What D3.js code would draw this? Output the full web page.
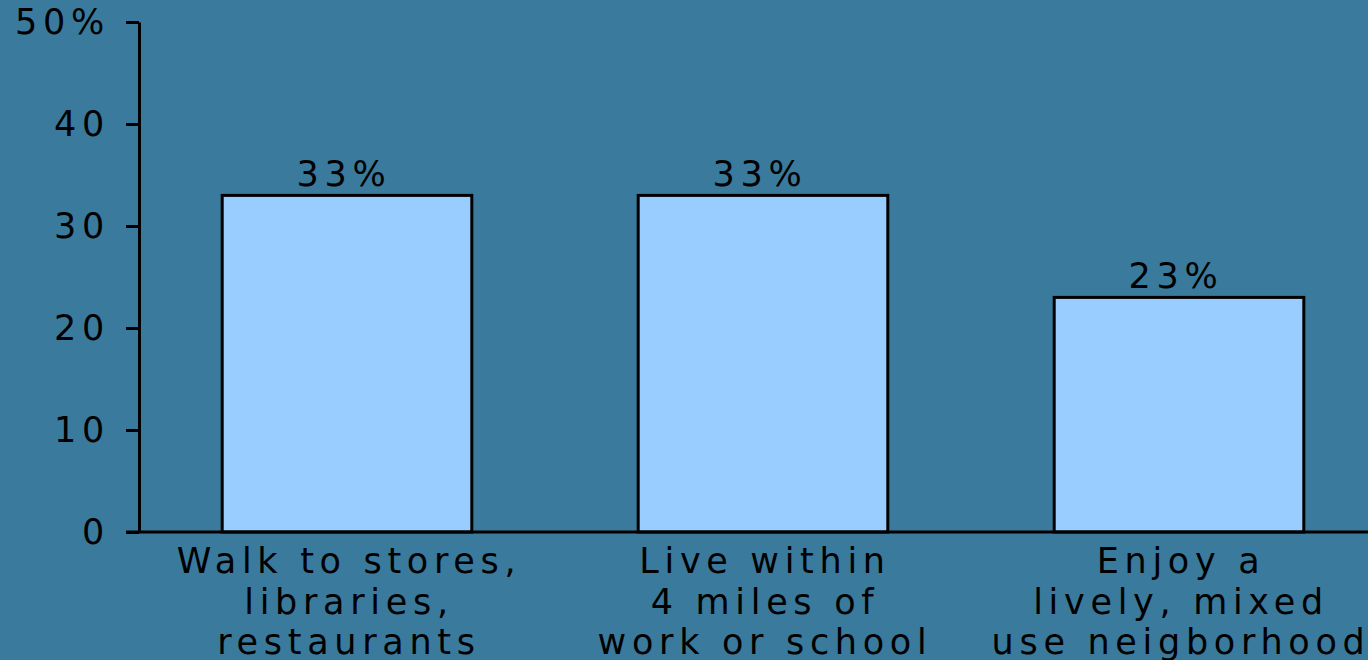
<!DOCTYPE html>
<html>
<head>
<meta charset="utf-8">
<script src="https://cdn.jsdelivr.net/npm/d3@7"></script>
<style>
  html, body { margin: 0; padding: 0; background: #3a7a9c; }
  svg { display: block; }
  text { font-family: "DejaVu Sans", Verdana, sans-serif; font-size: 35px; letter-spacing: 5.7px; fill: #000; }
</style>
</head>
<body>
<script>
// data
var categories = [
    ['Walk to stores,', 'libraries,', 'restaurants'],
    ['Live within', '4 miles of', 'work or school'],
    ['Enjoy a', 'lively, mixed', 'use neigborhood']
];
var values = [33, 33, 23];
var valueLabels = ['33%', '33%', '23%'];
var tickValues = [0, 10, 20, 30, 40, 50];

var width = 1368, height = 660;

var svg = d3.select('body').append('svg')
            .attr('width', width)
            .attr('height', height);

var x = d3.scaleBand()
          .domain(d3.range(values.length))
          .range([139, 1387])
          .paddingInner(0.4)
          .paddingOuter(0.2);

var y = d3.scaleLinear()
          .domain([0, 50])
          .range([532, 22]);

// bars
svg.selectAll('rect.bar')
    .data(values)
    .enter()
    .append('rect')
    .attr('class', 'bar')
    .attr('x', function (d, i) { return x(i); })
    .attr('y', function (d) { return y(d); })
    .attr('width', x.bandwidth())
    .attr('height', function (d) { return y(0) - y(d); })
    .style('fill', '#99ccff')
    .style('stroke', '#000')
    .style('stroke-width', 3);

// value labels
svg.selectAll('text.val')
    .data(values)
    .enter()
    .append('text')
    .attr('class', 'val')
    .attr('x', function (d, i) { return x(i) + x.bandwidth() / 2 - 3; })
    .attr('y', function (d) { return y(d) - 9; })
    .attr('text-anchor', 'middle')
    .text(function (d, i) { return valueLabels[i]; });

// y axis
var yAxis = d3.axisLeft(y)
              .tickValues(tickValues)
              .tickSize(13)
              .tickSizeOuter(0)
              .tickPadding(16)
              .tickFormat(function (d) { return d === 50 ? d + '%' : d; });

var gy = svg.append('g')
            .attr('transform', 'translate(139,0)')
            .call(yAxis);
gy.select('.domain').style('stroke', '#000').style('stroke-width', 3);
gy.selectAll('.tick line').style('stroke', '#000').style('stroke-width', 3);
gy.selectAll('.tick text')
    .attr('fill', '#000')
    .style('font-size', '35px')
    .style('font-family', '"DejaVu Sans", Verdana, sans-serif');

// baseline
svg.append('line')
    .attr('x1', 126)
    .attr('x2', width)
    .attr('y1', y(0))
    .attr('y2', y(0))
    .style('stroke', '#000')
    .style('stroke-width', 3);

// category labels
var cats = svg.selectAll('text.cat')
    .data(categories)
    .enter()
    .append('text')
    .attr('class', 'cat')
    .attr('text-anchor', 'middle');

cats.selectAll('tspan')
    .data(function (d, i) { return d.map(function (s) { return { s: s, i: i }; }); })
    .enter()
    .append('tspan')
    .attr('x', function (d) { return x(d.i) + x.bandwidth() / 2 + 2; })
    .attr('y', function (d, j) { return 573 + j * 40.5; })
    .text(function (d) { return d.s; });
</script>
</body>
</html>
